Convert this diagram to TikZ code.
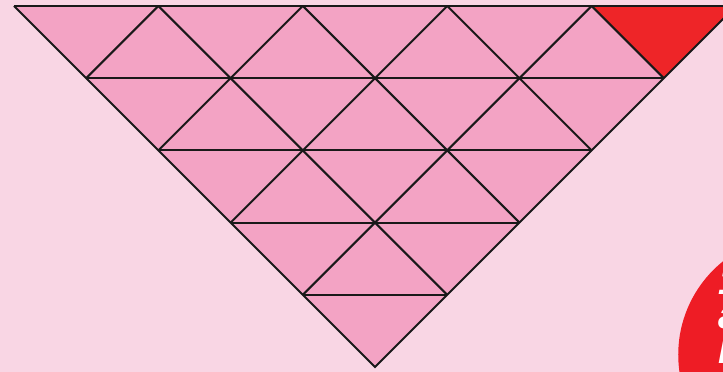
\documentclass[tikz,border=0pt]{standalone}
\usepackage{fontspec}
\setsansfont{Liberation Sans}
\definecolor{bgpink}{HTML}{F9D6E4}
\definecolor{tripink}{HTML}{F3A3C4}
\definecolor{cornerred}{HTML}{EE2528}
\definecolor{badgered}{HTML}{EE1C25}
\tikzset{
  gridline/.style={draw=black!90, line width=0.8pt},
  badgetext/.style={text=white, font=\sffamily\bfseries\itshape\fontsize{15}{13.5}\selectfont, align=left, anchor=north west, inner sep=0pt}
}
\begin{document}
\begin{tikzpicture}[line width=0.8pt]
  % page, 1cm = one row of the grid
  \useasboundingbox (-0.194,0.083) rectangle (9.820,-5.069);
  \clip (-0.194,0.083) rectangle (9.820,-5.069);
  \fill[bgpink] (-0.194,0.083) rectangle (9.820,-5.069);
  \coordinate (tl) at (0,0);
  \coordinate (tr) at (10,0);
  \coordinate (apex) at (5,-5);
  \fill[tripink] (tl) -- (tr) -- (apex) -- cycle;
  \fill[cornerred] (8,0) -- (tr) -- (9,-1) -- cycle;
  % rows
  \foreach \y in {0,...,4}
    \draw[gridline] (\y,-\y) -- (10-\y,-\y);
  % diagonals from the top points
  \foreach \c in {2,4,6,8} {
    \draw[gridline] (\c,0) -- (\c/2,-\c/2);
    \draw[gridline] (\c,0) -- ({(\c+10)/2},{(\c-10)/2});
  }
  \draw[gridline] (tl) -- (apex) -- (tr);
  % badge in the corner
  \fill[badgered] (10.86,-4.83) circle (1.66);
  \node[badgetext] (badge) at (9.74,-3.62) {1\\a\\M};
\end{tikzpicture}
\end{document}
